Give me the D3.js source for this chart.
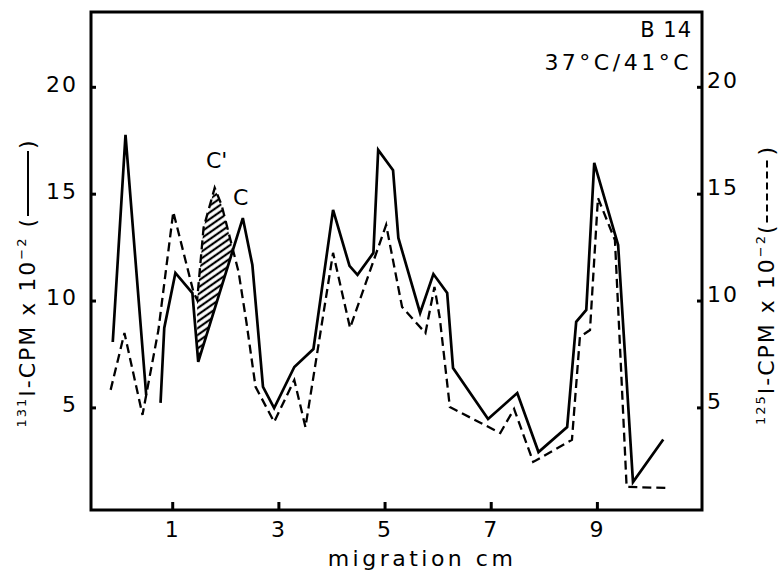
<!DOCTYPE html>
<html>
<head>
<meta charset="utf-8">
<script src="https://cdn.jsdelivr.net/npm/d3@7"></script>
<style>
  body { margin: 0; background: #fff; }
  svg { display: block; }
  text { font-family: "DejaVu Sans", sans-serif; fill: #000; }
</style>
</head>
<body>
<svg class="chart" width="778" height="574"></svg>
<script>
// 131I counts (solid line), null = break in the trace
const solidX = [-0.12, 0.12, 0.51, 0.65, 0.78, 0.85, 1.06, 1.38, 1.49, 2.33,
    2.51, 2.71, 2.92, 3.30, 3.66, 4.03, 4.34, 4.49, 4.79, 4.88,
    5.16, 5.26, 5.67, 5.92, 6.18, 6.29, 6.95, 7.50, 7.90, 8.44,
    8.61, 8.80, 8.95, 9.40, 9.68, 10.25]
const solidY = [8.06, 17.75, 5.58, null, 5.21, 8.72, 11.29, 10.35, 7.13, 13.86,
    11.66, 5.96, 4.97, 6.89, 7.73, 14.24, 11.62, 11.2, 12.23, 17.05,
    16.1, 12.93, 9.42, 11.24, 10.35, 6.84, 4.46, 5.67, 2.91, 4.08,
    9.0, 9.56, 16.44, 12.6, 1.51, 3.5]

// 125I counts (dashed line)
const dashX = [-0.16, 0.10, 0.44, 0.74, 1.02, 1.40, 1.47, 1.59, 1.80, 1.93,
    2.25, 2.40, 2.57, 2.92, 3.30, 3.51, 4.03, 4.35, 5.03, 5.33,
    5.77, 5.94, 6.04, 6.23, 7.18, 7.44, 7.80, 8.53, 8.68, 8.87,
    9.02, 9.34, 9.56, 10.32]
const dashY = [5.82, 8.48, 4.65, 8.62, 14.15, 10.4, 10.03, 13.4, 15.27, 14.47,
    11.34, 8.95, 5.96, 4.32, 6.28, 4.08, 12.23, 8.72, 13.54, 9.7,
    8.48, 10.64, 9.19, 5.02, 3.8, 4.93, 2.45, 3.48, 8.3, 8.62,
    14.8, 12.83, 1.28, 1.23]

const xTicks = [1, 3, 5, 7, 9]
const yTicks = [5, 10, 15, 20]
const hatchFrom = 1.47   // left edge of the C' shaded peak

const svg = d3.select("svg.chart")

const x = d3.scaleLinear()
    .domain([-0.53, 10.98])
    .range([91, 702])

const y = d3.scaleLinear()
    .domain([0.2, 23.5])
    .range([510, 12])

const solid = solidX.map((v, i) => ({ x: v, y: solidY[i] }))
const dashed = dashX.map((v, i) => ({ x: v, y: dashY[i] }))

// hatch pattern
const defs = svg.append("defs")
defs.append("pattern")
    .attr("id", "hatch")
    .attr("patternUnits", "userSpaceOnUse")
    .attr("width", 5.5)
    .attr("height", 5.5)
    .attr("patternTransform", "rotate(-35)")
  .append("line")
    .attr("x1", -1).attr("y1", 2.75)
    .attr("x2", 7).attr("y2", 2.75)
    .attr("stroke", "#000")
    .attr("stroke-width", 2.2)

// value of a polyline at xv
function valueAt(pts, xv) {
    for (let i = 0; i < pts.length - 1; i++) {
        const a = pts[i], b = pts[i + 1]
        if (a.y == null || b.y == null) continue
        if (xv >= a.x && xv <= b.x) {
            return a.y + (b.y - a.y) * (xv - a.x) / (b.x - a.x)
        }
    }
    return null
}

// shaded region between dashed (above) and solid (below) from hatchFrom to where they cross
const breaks = Array.from(new Set(solidX.concat(dashX)))
    .filter(v => v >= hatchFrom && v <= 3)
    .sort((a, b) => a - b)
const hatchPts = []
for (let i = 0; i < breaks.length; i++) {
    const xv = breaks[i]
    const d = valueAt(dashed, xv) - valueAt(solid, xv)
    if (d >= 0) {
        hatchPts.push({ x: xv, top: valueAt(dashed, xv), bot: valueAt(solid, xv) })
    } else {
        const prev = breaks[i - 1]
        const dp = valueAt(dashed, prev) - valueAt(solid, prev)
        const xc = prev + (xv - prev) * dp / (dp - d)
        const yc = valueAt(solid, xc)
        hatchPts.push({ x: xc, top: yc, bot: yc })
        break
    }
}

svg.append("path")
    .datum(hatchPts)
    .attr("fill", "url(#hatch)")
    .attr("d", d3.area()
        .x(d => x(d.x))
        .y0(d => y(d.bot))
        .y1(d => y(d.top)))

const line = d3.line()
    .defined(d => d.y != null)
    .x(d => x(d.x))
    .y(d => y(d.y))

svg.append("path")
    .datum(dashed)
    .attr("fill", "none")
    .attr("stroke", "#000")
    .attr("stroke-width", 2.3)
    .attr("stroke-dasharray", "9,5")
    .attr("d", line)

svg.append("path")
    .datum(solid)
    .attr("fill", "none")
    .attr("stroke", "#000")
    .attr("stroke-width", 2.7)
    .attr("d", line)

// frame
svg.append("rect")
    .attr("x", x.range()[0])
    .attr("y", y.range()[1])
    .attr("width", x.range()[1] - x.range()[0])
    .attr("height", y.range()[0] - y.range()[1])
    .attr("fill", "none")
    .attr("stroke", "#000")
    .attr("stroke-width", 3)

// axes
const leftAxis = svg.append("g")
    .attr("transform", "translate(91,0)")
    .call(d3.axisLeft(y).tickValues(yTicks).tickSize(-5).tickPadding(13))
const rightAxis = svg.append("g")
    .attr("transform", "translate(702,0)")
    .call(d3.axisRight(y).tickValues(yTicks).tickSize(-5).tickPadding(5))
const bottomAxis = svg.append("g")
    .attr("transform", "translate(0,510)")
    .call(d3.axisBottom(x).tickValues(xTicks).tickSize(-8).tickPadding(11))

;[leftAxis, rightAxis, bottomAxis].forEach(g => {
    g.select(".domain").remove()
    g.selectAll(".tick line").attr("stroke", "#000").attr("stroke-width", 3)
    g.selectAll(".tick text")
        .style("font-family", "DejaVu Sans")
        .style("font-size", "22px")
        .attr("letter-spacing", 2)
})
leftAxis.selectAll(".tick text").attr("dy", "0.2em")
rightAxis.selectAll(".tick text").attr("dy", "0.05em")

// axis titles with line-style samples inside the parentheses
function axisTitle(tx, ty, iso, dashedSample, gapText) {
    const g = svg.append("g")
        .attr("transform", "translate(" + tx + "," + ty + ") rotate(-90)")
    const t = g.append("text")
        .attr("text-anchor", "middle")
        .attr("letter-spacing", 2)
        .style("font-size", "22px")
    t.append("tspan").text(iso).style("font-size", "13px").attr("dy", -9)
    t.append("tspan").text("I-CPM x 10").attr("dy", 9)
    t.append("tspan").text("\u22122").style("font-size", "13px").attr("dy", -9)
    t.append("tspan").text(gapText + "(").attr("dy", 9)
    t.append("tspan").text(")").attr("dx", 68)
    const node = t.node()
    const open = iso.length + 10 + 2 + gapText.length
    const x1 = node.getEndPositionOfChar(open).x + 1
    const x2 = node.getStartPositionOfChar(open + 1).x - 2
    g.append("line")
        .attr("x1", x1).attr("x2", x2)
        .attr("y1", -7).attr("y2", -7)
        .attr("stroke", "#000")
        .attr("stroke-width", 2)
        .attr("stroke-dasharray", dashedSample ? "7,4" : null)
}
axisTitle(35, 283, "131", false, " ")
axisTitle(774, 285, "125", true, "")

svg.append("text")
    .attr("x", 422)
    .attr("y", 566)
    .attr("text-anchor", "middle")
    .attr("letter-spacing", 3.5)
    .style("font-size", "22px")
    .text("migration cm")

svg.append("text")
    .attr("x", 692)
    .attr("y", 37)
    .attr("text-anchor", "end")
    .attr("letter-spacing", 1)
    .style("font-size", "21px")
    .text("B 14")

svg.append("text")
    .attr("x", 692)
    .attr("y", 70)
    .attr("text-anchor", "end")
    .attr("letter-spacing", 3.5)
    .style("font-size", "22px")
    .text("37°C/41°C")

svg.append("text")
    .attr("x", 206)
    .attr("y", 168)
    .style("font-size", "22px")
    .text("C'")

svg.append("text")
    .attr("x", 233)
    .attr("y", 205)
    .style("font-size", "22px")
    .text("C")
</script>
</body>
</html>
